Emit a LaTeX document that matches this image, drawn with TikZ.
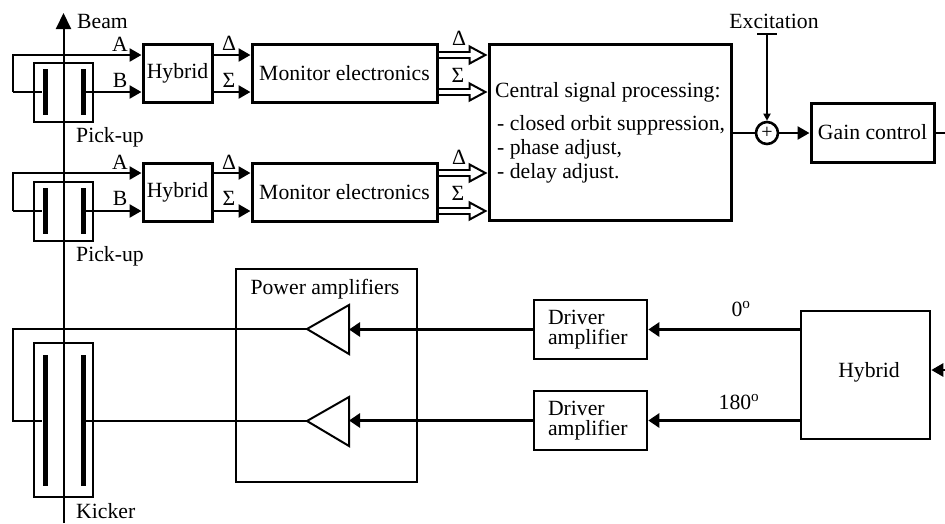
\documentclass[tikz,border=0pt]{standalone}
\usepackage{fontspec}
\setmainfont{Liberation Serif}
\usetikzlibrary{arrows.meta}
\tikzset{
  blockbox/.style={draw,line width=3pt,inner sep=0pt,align=center},
  thinbox/.style={draw,line width=2pt,inner sep=0pt},
  drvbox/.style={draw,line width=2.6pt,inner sep=0pt,minimum width=113pt,minimum height=59pt,text width=85pt,align=left,font=\fontsize{21.7}{20}\selectfont},
  plate/.style={fill=black,inner sep=0pt,minimum width=5pt},
  lbl/.style={inner sep=0pt},
  wire/.style={line width=2pt},
  sig/.style={line width=2.6pt,-{Triangle[length=12pt,width=13pt]}},
  thicksig/.style={line width=3.5pt,-{Triangle[length=11pt,width=14pt]}},
  dblsig/.style={double,double distance=3.5pt,line width=2pt,-{Triangle[open,length=19pt,width=20pt,line width=2pt]}}
}
\begin{document}
\begin{tikzpicture}[x=1pt,y=-1pt,font=\fontsize{21.7}{25}\selectfont]
\useasboundingbox (0,0) rectangle (945,523);
% beam axis
\coordinate (bs) at (63.5,523);
\coordinate (bt) at (63.5,13);
\draw[wire,-{Triangle[length=16pt,width=15pt]}] (bs) -- (bt);
\node[lbl,anchor=west] (beam) at (77,21) {Beam};
% first row
\node[thinbox,minimum width=59pt,minimum height=59pt] (pu1) at (63.5,92) {};
\node[plate,minimum height=46pt] (p1a) at (45,92) {};
\node[plate,minimum height=46pt] (p1b) at (83,92) {};
\node[lbl,anchor=west] (pl1) at (76,137) {Pick-up};
\node[blockbox,minimum width=69pt,minimum height=58pt] (hy1) at (177.5,73.5) {Hybrid};
\node[blockbox,minimum width=185pt,minimum height=58pt] (me1) at (344.5,73.5) {Monitor electronics};
\coordinate (w1) at (13,55);
\coordinate (w2) at (13,92);
\draw[sig] (w2) -- (w1) -- (w1 -| hy1.west);
\draw[wire] (w2) -- (p1a);
\draw[sig] (p1b) -- (p1b -| hy1.west);
\node[lbl] (la1) at (120,44) {A};
\node[lbl] (lb1) at (120,80) {B};
\draw[sig] (hy1.east |- w1) -- (me1.west |- w1);
\draw[sig] (hy1.east |- w2) -- (me1.west |- w2);
\node[lbl] (ld1) at (229,43) {Δ};
\node[lbl] (ls1) at (229,80) {Σ};
% second row
\node[thinbox,minimum width=59pt,minimum height=59pt] (pu2) at (63.5,211.5) {};
\node[plate,minimum height=46pt] (p2a) at (45,211) {};
\node[plate,minimum height=46pt] (p2b) at (83,211) {};
\node[lbl,anchor=west] (pl2) at (76,256) {Pick-up};
\node[blockbox,minimum width=69pt,minimum height=58pt] (hy2) at (177.5,192) {Hybrid};
\node[blockbox,minimum width=185pt,minimum height=58pt] (me2) at (344.5,192) {Monitor electronics};
\coordinate (w3) at (13,173);
\coordinate (w4) at (13,211);
\draw[sig] (w4) -- (w3) -- (w3 -| hy2.west);
\draw[wire] (w4) -- (p2a);
\draw[sig] (p2b) -- (p2b -| hy2.west);
\node[lbl] (la2) at (120,162) {A};
\node[lbl] (lb2) at (120,198) {B};
\draw[sig] (hy2.east |- w3) -- (me2.west |- w3);
\draw[sig] (hy2.east |- w4) -- (me2.west |- w4);
\node[lbl] (ld2) at (229,162) {Δ};
\node[lbl] (ls2) at (229,198) {Σ};
% central processing
\node[blockbox,minimum width=242pt,minimum height=176pt] (csp) at (610,132) {};
\node[lbl,anchor=west] (csp1) at (495,92) {Central signal processing:};
\node[lbl,anchor=west] (csp2) at (497,125) {- closed orbit suppression,};
\node[lbl,anchor=west] (csp3) at (497,149) {- phase adjust,};
\node[lbl,anchor=west] (csp4) at (497,173) {- delay adjust.};
\foreach \yy/\mm in {55/me1,92/me1,173/me2,211/me2}{
  \draw[dblsig] (\mm.east |- 0,\yy) -- (csp.west |- 0,\yy);
  \draw[white,line width=3.5pt] (467,\yy) -- (473,\yy);
}
\node[lbl] (ld3) at (459,38) {Δ};
\node[lbl] (ls3) at (458,75) {Σ};
\node[lbl] (ld4) at (459,157) {Δ};
\node[lbl] (ls4) at (458,193) {Σ};
% excitation and gain
\node[lbl] (exc) at (774,21) {Excitation};
\node[draw,circle,line width=2.6pt,minimum size=22pt,inner sep=0pt,font=\fontsize{20}{20}\selectfont] (sum) at (767,133) {+};
\coordinate (et) at (767,34);
\draw[wire] (757,34) -- (777,34);
\draw[wire,-{Triangle[length=7pt,width=7pt]}] (et) -- (sum);
\node[blockbox,minimum width=123pt,minimum height=59pt] (gc) at (872.5,132.5) {Gain control};
\draw[wire] (csp.east |- sum) -- (sum);
\draw[sig] (sum) -- (gc.west |- sum);
\coordinate (gout) at (945,132.5);
\draw[wire] (gc.east) -- (gout);
% kicker side
\node[thinbox,minimum width=59pt,minimum height=154pt] (kk) at (63.5,420) {};
\node[plate,minimum height=131pt] (k1) at (45,420.5) {};
\node[plate,minimum height=131pt] (k2) at (83,420.5) {};
\node[lbl,anchor=west] (kl) at (76,511) {Kicker};
\node[thinbox,minimum width=181pt,minimum height=213pt] (pa) at (326.5,375) {};
\node[lbl] (pal) at (325,289) {Power amplifiers};
\draw[wire,line join=miter] (307,329) coordinate (t1) -- (349,305) coordinate (t1a) -- (349,354) coordinate (t1b) -- cycle;
\draw[wire,line join=miter] (307,421) coordinate (t2) -- (349,397) coordinate (t2a) -- (349,446) coordinate (t2b) -- cycle;
\coordinate (w5) at (13,329);
\coordinate (w6) at (13,421);
\draw[wire] (t1) -- (w5) -- (w6) -- (k1.west |- w6);
\draw[wire] (k2.east |- t2) -- (t2);
\node[drvbox] (dr1) at (590.5,329.5) {Driver\\amplifier};
\node[drvbox] (dr2) at (590.5,420.5) {Driver\\amplifier};
\node[blockbox,minimum width=129pt,minimum height=128pt,line width=2.6pt] (hy3) at (865.5,375) {};
\node[lbl] (hy3l) at (869,372) {Hybrid};
\draw[thicksig] (dr1.west) -- (dr1.west -| t1a);
\draw[thicksig] (dr2.west) -- (dr2.west -| t2a);
\draw[thicksig] (hy3.west |- dr1) -- (dr1.east);
\draw[thicksig] (hy3.west |- dr2) -- (dr2.east);
\node[lbl] (deg0) at (741,309) {0\textsuperscript{o}};
\node[lbl] (deg180) at (739,402) {180\textsuperscript{o}};
\coordinate (hin) at (945,370);
\draw[sig] (hin) -- (hy3.east |- hin);
\end{tikzpicture}
\end{document}
